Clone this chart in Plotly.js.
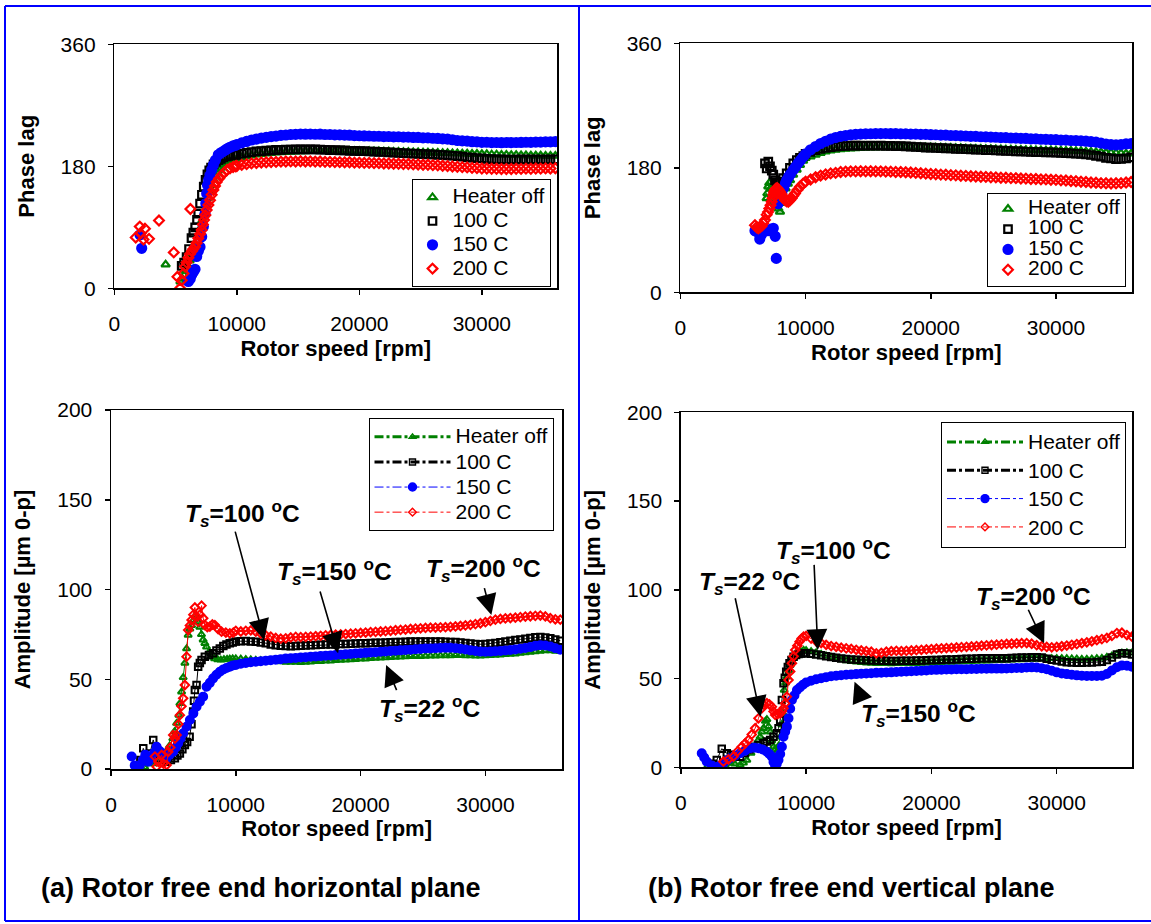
<!DOCTYPE html>
<html>
<head>
<meta charset="utf-8">
<script src="https://cdn.plot.ly/plotly-3.0.1.min.js"></script>
<style>html,body{margin:0;padding:0;background:#fff;}</style>
</head>
<body>
<div id="chart" style="width:1151px;height:924px;"></div>
<script>
// Rotor speed grid used for the steady part of every run (rpm)
const speedGrid = [
  10000,10400,10800,11200,11600,12000,12400,12800,13200,13600,
  14000,14400,14800,15200,15600,16000,16400,16800,17200,17600,
  18000,18400,18800,19200,19600,20000,20400,20800,21200,21600,
  22000,22400,22800,23200,23600,24000,24400,24800,25200,25600,
  26000,26400,26800,27200,27600,28000,28400,28800,29200,29600,
  30000,30400,30800,31200,31600,32000,32400,32800,33200,33600,
  34000,34400,34800,35200,35600,36000];

const seriesNames = ['Heater off', '100 C', '150 C', '200 C'];

// ---------- (a) horizontal plane: phase lag [deg] ----------
const hPhaseOffRpm = [4190,5400,5550,5700,5850,6000,6150,6300,6450,6600,6750,6900,7050,7200,7350,7500,7650,7800,7950,8100,8250,8400,8550,8700,8850,9000,9200,9400,9600,9800];
const hPhaseOff    = [35,10,14,19,26,33,41,49,57,64,70,77,88,100,111,122,133,143,152,160,166,171,175,178,181,183,185,187,188.5,189.5];
const hPhaseOffHigh = [
  190.2,192.5,194.6,195.9,197.2,198.1,199.0,199.5,200.3,200.7,
  201.1,201.3,201.9,202.1,202.2,202.6,202.6,202.9,203.1,202.9,
  203.0,203.1,202.8,202.8,202.5,202.6,202.3,202.4,202.1,202.2,
  201.9,201.9,201.5,201.5,201.1,201.1,200.7,200.7,200.3,200.3,
  200.0,199.9,199.5,199.5,199.1,199.1,198.7,198.7,198.3,198.3,
  198.0,197.9,197.5,197.5,197.1,197.1,196.7,196.6,196.3,196.3,
  196.0,195.8,195.8,195.6,195.6,195.4];

const hPhase100Rpm = [5500,5700,5900,6100,6300,6450,6600,6750,6850,7000,7150,7300,7450,7600,7750,7900,8100,8300,8500,8700,8900,9100,9300,9500,9700,9900];
const hPhase100    = [33,38,46,58,74,82,90,101,110,125,138,150,160,168,174,178,183,186.5,189,191,193,194.5,195.5,196.2,196.7,197];
const hPhase100High = [
  197.2,198.5,199.9,200.8,201.9,202.4,203.2,203.5,204.1,204.3,
  204.8,204.8,205.1,205.0,205.1,204.9,204.9,204.5,204.4,204.0,
  204.0,203.6,203.5,202.9,202.9,202.4,202.3,201.8,201.7,201.2,
  201.1,200.5,200.3,199.7,199.5,198.9,198.8,198.3,198.1,197.7,
  197.6,196.9,196.7,196.0,195.6,194.9,194.3,193.3,192.7,191.9,
  191.6,190.9,190.7,190.3,190.3,189.9,190.0,189.9,190.2,189.9,
  190.1,189.8,190.1,190.0,190.1,190.2];

const hPhase150Rpm = [2098,2236,6041,6200,6316,6450,6588,6724,6860,6996,7132,7268,7404,7470,7540,7610,7700,7812,7950,8084,8250,8492,8700,8898,9100,9300,9500,9700,9900];
const hPhase150    = [79,59,10,14,20,24,28,47,55,61,76,91,110,125,140,152,160,167,175,182,189,197,200,202,204.5,206.8,208.5,210,211];
const hPhase150High = [
  212.0,214.6,216.7,218.8,220.2,221.7,222.7,223.9,224.6,225.6,
  226.2,226.9,227.2,227.5,227.4,227.6,227.3,227.4,226.9,226.9,
  226.5,226.5,226.0,225.9,225.3,225.1,224.8,224.7,224.3,224.3,
  223.9,224.0,223.5,223.6,223.0,223.1,222.6,222.6,222.0,221.9,
  221.4,221.1,220.5,220.1,219.2,218.1,217.5,217.1,216.3,216.1,
  215.4,215.5,215.0,215.1,214.8,215.1,215.0,215.1,215.2,215.5,
  215.4,215.7,215.8,216.1,216.1,216.5];

const hPhase200Rpm = [1749,2080,2141,2382,2503,2834,3648,4854,5156,5367,5500,5650,5771,5900,6050,6180,6211,6350,6450,6588,6720,6860,7000,7132,7230,7322,7430,7540,7680,7812,7950,8084,8220,8356,8560,8764,8980,9200,9444,9700,9900];
const hPhase200    = [75,91,81,72,88,73,100,53,17,0,12,22,32,38,45,50.6,117,55,58,61.4,67,73.8,80,86,94,100.8,108,115.5,123,130,138,145,151,157,162,167,171,174.5,177,179,180];
const hPhase200High = [
  180.5,182.1,183.2,184.3,184.9,185.7,185.9,186.3,186.5,186.9,
  187.0,187.2,187.1,187.4,187.1,187.3,186.9,187.0,186.6,186.6,
  186.2,186.2,185.8,185.9,185.4,185.4,185.0,185.0,184.6,184.6,
  184.2,184.2,183.8,183.7,183.3,183.3,182.8,182.7,182.3,182.2,
  181.7,181.5,180.8,180.5,179.8,179.4,178.7,178.4,177.6,177.4,
  176.7,176.7,176.3,176.3,176.0,176.1,176.0,176.3,176.2,176.5,
  176.3,176.7,176.6,176.9,176.8,177.1];

// ---------- (b) vertical plane: phase lag [deg] ----------
const vPhaseOffRpm = [6893,6950,7021,7100,7200,7300,7450,7600,7820,7955,8091,8250,8400,8580,8754,9000,9284,9550,9800];
const vPhaseOff    = [136,143,153,158,150,140,130,124,121,116.5,129,140,150,157,162,170,177,184,190];
const vPhaseOffHigh = [
  194.0,196.4,198.8,201.2,203.5,205.0,206.0,206.8,207.4,207.9,
  208.2,208.6,208.8,209.2,209.2,209.6,209.6,209.9,209.8,210.1,
  209.9,210.1,209.8,209.9,209.5,209.6,209.2,209.2,208.8,208.8,
  208.4,208.4,208.0,208.0,207.6,207.6,207.2,207.2,206.8,206.8,
  206.4,206.4,206.0,206.0,205.6,205.6,205.3,205.4,205.1,205.2,
  204.9,204.9,204.5,204.5,204.1,204.1,203.5,203.3,202.7,202.5,
  201.9,201.8,201.3,201.1,200.6,200.6];

const vPhase100Rpm = [6757,6893,7021,7157,7300,7421,7556,7692,7850,8000,8200,8490,8750,9018,9300,9550,9816];
const vPhase100    = [186.5,179,189,182,176,170,162,158,158,160,165,172,180,186.5,191,194.5,197];
const vPhase100High = [
  200.0,203.1,205.4,207.4,208.6,209.9,210.5,211.3,211.5,212.0,
  212.0,212.1,211.9,212.1,211.9,212.0,211.8,211.8,211.4,211.3,
  211.0,210.7,210.1,209.9,209.3,209.1,208.6,208.5,208.0,207.9,
  207.5,207.3,206.8,206.7,206.2,206.1,205.6,205.5,205.0,204.9,
  204.5,204.3,203.8,203.7,203.2,203.1,202.7,202.7,202.3,202.3,
  201.9,201.7,201.1,200.9,200.3,200.1,199.2,198.5,197.2,196.1,
  194.4,193.5,192.6,193.0,193.7,195.1];

const vPhase150Rpm = [5958,6094,6340,6500,6692,6985,7200,7338,7421,7572,7660,7800,7955,8100,8250,8400,8490,8650,8800,9018,9200,9400,9600,9816];
const vPhase150    = [89,88,77,84,90,89,91,90,92.5,81,49,128,136,144,151,158,162,167,171,177,181.5,186.5,191,196];
const vPhase150High = [
  200.0,206.0,210.8,215.1,218.4,221.5,223.7,225.4,226.6,227.6,
  228.3,228.7,229.1,229.2,229.5,229.4,229.6,229.3,229.4,229.1,
  229.1,228.7,228.7,228.3,228.3,227.9,227.8,227.3,227.2,226.7,
  226.6,226.1,226.0,225.5,225.4,224.9,224.8,224.3,224.2,223.7,
  223.6,223.1,223.0,222.5,222.4,221.9,221.8,221.3,221.2,220.7,
  220.6,220.1,220.0,219.5,219.4,218.9,218.5,217.7,217.1,215.7,
  214.4,213.4,213.1,213.5,214.5,215.0];

const vPhase200Rpm = [5958,6090,6224,6357,6490,6620,6757,6893,7000,7101,7200,7292,7360,7421,7490,7556,7650,7741,7850,7955,8060,8171,8260,8355,8480,8618,8750,8890,9020,9155,9350,9553,9800];
const vPhase200    = [97,94,92.5,94,96,100,104.5,112,116,121,126,131,136,141,145,148,150,150.4,148,145.4,142,139,136,133.4,131.5,131,133,136,139.5,143,148,152.7,157];
const vPhase200High = [
  160.0,163.0,166.3,168.7,170.4,171.9,172.7,174.0,174.5,174.9,
  174.8,175.1,174.9,175.1,174.8,174.9,174.5,174.4,174.0,173.9,
  173.6,173.2,172.7,172.1,171.6,171.1,170.7,170.2,169.9,169.4,
  169.1,168.6,168.3,167.8,167.5,167.0,166.8,166.3,166.2,165.7,
  165.6,165.1,165.0,164.5,164.4,163.9,163.8,163.3,163.2,162.7,
  162.6,161.9,161.6,160.9,160.6,159.9,159.5,158.7,158.4,157.8,
  157.6,157.3,157.6,157.8,158.7,159.4];

// ---------- (a) horizontal plane: amplitude [um 0-p] ----------
const hAmpOffRpm = [2200,2450,2700,2950,3200,3450,3700,3950,4200,4450,4700,4950,5100,5255,5439,5519,5655,5783,5920,6055,6183,6320,6455,6620,6799,6960,7119,7250,7383,7520,7655,7850,8055,8300,8550,8800,9050,9300,9519,9750];
const hAmpOff    = [2,0,1,3,4,3,5,7,8,10,13,17,21,25.5,30,36.6,43,51,59,67,74.6,78,80,83,85.8,82,79,75,72,70,68,65,62.6,61.5,61,60.8,61,61.2,61.3,61.5];
const hAmpOffHigh = [
  61.5,61.3,61.1,60.9,60.7,60.5,60.4,60.2,60.0,59.8,
  59.6,59.5,59.5,59.4,59.6,59.7,59.9,60.0,60.2,60.3,
  60.5,60.6,60.8,60.9,61.1,61.3,61.4,61.6,61.8,61.9,
  62.0,62.2,62.3,62.5,62.6,62.7,62.8,62.8,62.9,63.0,
  63.0,63.1,63.2,63.2,63.3,63.3,63.2,63.1,63.0,63.0,
  63.1,63.3,63.4,63.6,63.8,64.0,64.2,64.5,64.8,65.1,
  65.4,65.7,66.0,65.9,65.7,65.5];

const hAmp100Rpm = [2350,2584,2850,3120,3384,3650,3900,4200,4455,4800,5119,5320,5519,5719,5919,6100,6300,6450,6584,6650,6719,6855,6983,7119,7255,7519,7850,8183,8450,8719,9000,9250,9519,9750];
const hAmp100    = [5,11.5,7,8.7,16.2,10,6,5,4,5,6,7.5,8.7,11,13.4,15,18,25,32,38,44,46.8,57,59,60.7,62.6,63.5,64.5,66,67.2,68.5,69.3,70,70.5];
const hAmp100High = [
  71.0,71.2,71.3,71.1,70.9,70.5,70.0,69.4,69.0,68.7,
  68.5,68.4,68.5,68.6,68.8,69.0,69.1,69.2,69.3,69.4,
  69.5,69.6,69.7,69.8,69.9,70.0,70.1,70.2,70.3,70.4,
  70.5,70.6,70.7,70.8,70.9,71.0,71.0,71.1,71.1,71.1,
  71.0,71.0,70.9,70.8,70.7,70.5,70.2,69.9,69.6,69.5,
  69.6,69.9,70.2,70.6,71.0,71.4,71.8,72.2,72.6,73.0,
  73.4,73.5,73.3,72.8,72.1,71.5];

const hAmp150Rpm = [1655,1900,2184,2320,2550,2750,2984,3200,3450,3656,3900,4184,4450,4700,4983,5200,5383,5580,5783,6050,6319,6600,6855,7120,7383,7655,7920,8183,8450,8719,9000,9250,9519,9750];
const hAmp150    = [7,2,0,2.2,5,8,4,6,9,12.4,10,8.7,6,8,9.6,12,14.3,17,19.9,23.5,27.3,31,34.7,37.5,40.3,45.8,48,50.5,52.5,54.2,55.5,56.3,57,57.7];
const hAmp150High = [
  58.0,58.6,59.1,59.5,59.8,60.0,60.3,60.6,60.9,61.2,
  61.5,61.7,61.9,62.1,62.3,62.5,62.7,62.9,63.1,63.3,
  63.5,63.7,63.9,64.1,64.3,64.5,64.7,64.9,65.1,65.3,
  65.5,65.7,65.9,66.1,66.3,66.5,66.7,66.9,67.1,67.2,
  67.3,67.4,67.5,67.5,67.3,67.0,66.6,66.1,65.7,65.4,
  65.3,65.4,65.6,65.8,66.0,66.3,66.6,67.0,67.4,67.9,
  68.6,69.0,68.8,68.2,67.3,66.5];

const hAmp200Rpm = [3520,3655,3800,4055,4200,4455,4583,4750,4983,5120,5255,5400,5519,5650,5783,5919,6055,6183,6320,6455,6600,6719,6850,6983,7120,7255,7390,7519,7720,7919,8120,8319,8580,8855,9200,9519,9800];
const hAmp200    = [6.9,1.3,4,7.8,3,2.2,9.6,12,18.9,17,18.9,25,30,35,39.4,46.8,62.6,77.4,80,83,86,90,85,82.1,86,91,84,80.2,79,79.3,80.5,80.2,78,76.5,76,75.6,76];
const hAmp200High = [
  77.0,76.6,77.0,77.2,76.5,75.5,74.5,73.8,73.0,72.6,
  72.8,73.3,73.6,73.5,73.6,73.8,74.0,74.2,74.5,74.7,
  74.8,75.0,75.2,75.4,75.6,75.8,76.0,76.3,76.4,76.6,
  76.8,77.0,77.3,77.5,77.7,78.0,78.2,78.4,78.6,78.7,
  78.8,78.9,79.0,79.2,79.4,79.7,80.0,80.3,80.7,81.2,
  81.8,82.5,83.2,83.6,83.9,84.1,84.3,84.6,84.9,85.1,
  85.3,85.5,85.0,84.0,83.4,83.2];

// ---------- (b) vertical plane: amplitude [um 0-p] ----------
const vAmpOffRpm = [2071,2400,2871,3200,3550,3934,4300,4734,5000,5269,5600,5933,6150,6333,6470,6597,6750,6869,7000,7132,7260,7396,7530,7668,7800,7932,8050,8148,8252,8360,8468,8600,8732,9000,9268,9550,9800];
const vAmpOff    = [0,1,0.3,2,1.5,2.3,2,1.3,2.5,4.1,8,11.6,15,17.2,20,22,26,27,23,20,15,11.6,10,8.8,12,17.2,24,30.4,43.5,47.5,51,54.5,57.6,61.5,64.2,65.5,66];
const vAmpOffHigh = [
  65.8,65.3,64.6,63.8,62.8,62.0,61.3,60.7,60.1,59.7,
  59.4,59.1,58.9,58.7,58.6,58.5,58.5,58.4,58.5,58.5,
  58.5,58.6,58.6,58.7,58.8,58.9,59.0,59.1,59.2,59.3,
  59.4,59.5,59.6,59.7,59.8,59.9,60.0,60.1,60.2,60.3,
  60.4,60.5,60.6,60.7,60.8,60.9,61.0,61.1,61.2,61.3,
  61.4,61.4,61.3,61.2,61.1,61.0,61.0,61.1,61.3,61.5,
  62.0,62.8,63.7,64.4,64.6,64.5];

const vAmp100Rpm = [2600,2871,3270,3670,4000,4400,4734,5100,5450,5797,6200,6597,6870,7132,7396,7668,7800,7932,8068,8196,8300,8412,8540,8676,8830,8996,9200,9400,9600,9800];
const vAmp100    = [2,4.1,10.5,7.9,7,6.5,6,8,10,11.6,12.5,13.5,14.5,15.4,17.2,19.2,22,26.6,37.9,47.3,50.5,53.9,56.5,58.6,60.5,62.3,63.3,63.8,64.1,64.3];
const vAmp100High = [
  64.3,64.0,63.6,63.1,62.6,62.1,61.7,61.3,61.0,60.8,
  60.6,60.4,60.3,60.2,60.1,60.0,60.0,59.9,59.9,60.0,
  60.0,60.0,60.1,60.2,60.3,60.4,60.5,60.6,60.7,60.8,
  60.9,61.0,61.1,61.2,61.3,61.4,61.4,61.5,61.5,61.5,
  61.5,61.6,61.7,61.8,61.9,62.0,62.0,61.8,61.2,60.6,
  60.1,59.6,59.2,59.0,58.9,58.9,59.0,59.1,59.3,59.5,
  60.5,61.8,63.5,64.3,64.1,63.5];

const vAmp150Rpm = [1671,1870,2071,2470,2871,3130,3398,3660,3934,4330,4734,5130,5533,5870,6197,6530,6869,7070,7268,7400,7532,7660,7796,7932,8068,8196,8330,8468,8596,8730,8868,9068,9268,9500,9750];
const vAmp150    = [7.9,5.5,3.2,1,0,1,2.3,3.8,5.1,6.5,7.9,9.3,10.7,11,10.7,10,8.8,7.5,6,3,0.5,2,4.1,7.5,11.6,17.2,20,22.9,27.6,33,37.9,40.5,43.5,45,46.5];
const vAmp150High = [
  47.8,48.8,49.6,50.2,50.8,51.3,51.6,51.9,52.1,52.3,
  52.5,52.7,52.8,53.0,53.2,53.3,53.4,53.5,53.7,53.8,
  54.0,54.1,54.3,54.4,54.6,54.8,54.9,55.0,55.1,55.1,
  55.2,55.3,55.3,55.4,55.4,55.5,55.5,55.6,55.6,55.6,
  55.7,55.8,55.9,56.0,56.2,56.3,56.2,55.8,55.2,54.4,
  53.5,52.9,52.5,52.1,51.8,51.6,51.5,51.5,51.4,51.6,
  52.6,54.5,56.4,57.4,57.2,56.6];

const vAmp200Rpm = [3398,3800,4198,4530,4870,5130,5397,5660,5933,6197,6469,6670,6869,7070,7268,7400,7532,7730,7932,8060,8196,8330,8468,8596,8730,8868,9000,9132,9300,9476,9640,9796];
const vAmp200    = [3.2,4.5,6,9,11.6,13.5,15.4,18.5,22,27.6,33.2,35,36.1,35.5,34.1,31.5,29.5,30,30.4,31.5,33.2,36,39.8,49.2,54,58.6,62.5,66.1,68.5,70.8,72.5,73.6];
const vAmp200High = [
  74.0,72.5,71.0,70.0,69.0,68.3,67.9,67.4,67.0,66.7,
  66.2,65.8,65.5,65.1,64.2,64.5,65.1,65.4,65.6,65.5,
  65.6,65.8,66.0,66.2,66.4,66.6,66.8,67.0,67.2,67.3,
  67.5,67.7,67.9,68.1,68.3,68.5,68.7,68.9,69.1,69.3,
  69.5,69.6,69.8,69.9,70.0,69.6,68.8,68.2,67.8,67.6,
  67.8,68.2,68.6,69.0,69.4,69.9,70.4,71.0,71.6,72.2,
  72.9,74.0,75.6,75.8,74.5,73.6];

// Shaft temperature callouts: label, text position, arrow tail, arrow head (rpm, value)
const hAmpCallouts = [
  {label: '100', text: [10560, 142.4], tail: [9919, 133.1],  head: [12279, 71.9]},
  {label: '150', text: [17918, 109.9], tail: [16718, 99.7],  head: [18198, 64.5]},
  {label: '200', text: [29837, 111.8], tail: [29885, 101.6], head: [30476, 85.8]},
  {label: '22',  text: [25517, 33.8],  tail: [22933, 43.1],  head: [22045, 57.9]}
];
const vAmpCallouts = [
  {label: '100', text: [12170, 122.4], tail: [10635, 114.9], head: [10931, 66.1]},
  {label: '22',  text: [5501, 104.6],  tail: [4318, 96.1],   head: [6373, 28.5]},
  {label: '200', text: [28114, 96.1],  tail: [27674, 89.6],  head: [28993, 69.9]},
  {label: '150', text: [19007, 30.4],  tail: [14457, 37.9],  head: [13865, 48.2]}
];

// ---------- styling ----------
const FONT = 'Liberation Sans, Arial, Helvetica, sans-serif';
const colors  = ['#008000', '#000000', '#0000FF', '#FF0000'];
const symbols = ['triangle-up-open', 'square-open', 'circle', 'diamond-open'];
const W = 1151, H = 924;
const px = v => v / W;
const py = v => 1 - v / H;

const panels = [
  {xa: 'x',  ya: 'y',  legend: 'legend',  lines: false,
   rpm: [hPhaseOffRpm, hPhase100Rpm, hPhase150Rpm, hPhase200Rpm],
   low: [hPhaseOff, hPhase100, hPhase150, hPhase200],
   high: [hPhaseOffHigh, hPhase100High, hPhase150High, hPhase200High]},
  {xa: 'x2', ya: 'y2', legend: 'legend2', lines: false,
   rpm: [vPhaseOffRpm, vPhase100Rpm, vPhase150Rpm, vPhase200Rpm],
   low: [vPhaseOff, vPhase100, vPhase150, vPhase200],
   high: [vPhaseOffHigh, vPhase100High, vPhase150High, vPhase200High]},
  {xa: 'x3', ya: 'y3', legend: 'legend3', lines: true,
   rpm: [hAmpOffRpm, hAmp100Rpm, hAmp150Rpm, hAmp200Rpm],
   low: [hAmpOff, hAmp100, hAmp150, hAmp200],
   high: [hAmpOffHigh, hAmp100High, hAmp150High, hAmp200High]},
  {xa: 'x4', ya: 'y4', legend: 'legend4', lines: true,
   rpm: [vAmpOffRpm, vAmp100Rpm, vAmp150Rpm, vAmp200Rpm],
   low: [vAmpOff, vAmp100, vAmp150, vAmp200],
   high: [vAmpOffHigh, vAmp100High, vAmp150High, vAmp200High]}
];

const legendLabel = name => '<span style="font-size:21px">' + name + '</span>';

const traces = [];
panels.forEach(p => {
  for (let i = 0; i < 4; i++) {
    const x = p.rpm[i].concat(speedGrid);
    const y = p.low[i].concat(p.high[i]);
    if (!p.lines) {
      traces.push({
        type: 'scatter', mode: 'markers', x: x, y: y,
        xaxis: p.xa, yaxis: p.ya, legend: p.legend,
        name: legendLabel(seriesNames[i]),
        marker: {symbol: symbols[i], color: colors[i], size: i === 2 ? 9 : 7.5,
                 line: {color: colors[i], width: 2.2}},
        hoverinfo: 'skip'
      });
    } else {
      traces.push({
        type: 'scatter', mode: 'lines+markers', x: x, y: y,
        xaxis: p.xa, yaxis: p.ya, showlegend: false,
        line: {color: colors[i], width: 1},
        marker: {symbol: symbols[i], color: colors[i], size: i === 2 ? 8 : 6.5,
                 line: {color: colors[i], width: 2}},
        hoverinfo: 'skip'
      });
    }
  }
  if (p.lines) {
    // legend keys drawn with the dash-dot series line style
    for (let i = 0; i < 4; i++) {
      traces.push({
        type: 'scatter', mode: 'lines+markers', x: [null], y: [null],
        xaxis: p.xa, yaxis: p.ya, legend: p.legend,
        name: legendLabel(seriesNames[i]),
        line: {color: colors[i], width: i < 2 ? 3 : 1, dash: 'dashdot'},
        marker: {symbol: symbols[i], color: colors[i], size: i === 2 ? 8 : 6,
                 line: {color: colors[i], width: 1.4}}
      });
    }
  }
});

const baseAxis = {
  showline: true, linecolor: '#000', linewidth: 1.5, mirror: true,
  ticks: 'outside', ticklen: 5, tickwidth: 1.5, tickcolor: '#000',
  showgrid: false, zeroline: false, automargin: false, fixedrange: true,
  tickfont: {family: FONT, size: 21, color: '#000'}
};
const xAxis = (anchor, domain, end) => Object.assign({}, baseAxis, {
  anchor: anchor, domain: domain, range: [0, end],
  tickvals: [0, 10000, 20000, 30000], tickformat: 'd', ticklabelstandoff: 11,
  title: {text: '<b>Rotor speed [rpm]</b>', font: {family: FONT, size: 22, color: '#000'}, standoff: 6}
});
const yAxis = (anchor, domain, range, tickvals, title) => Object.assign({}, baseAxis, {
  anchor: anchor, domain: domain, range: range, tickvals: tickvals, ticklabelstandoff: 8,
  title: {text: '<b>' + title + '</b>', font: {family: FONT, size: 22, color: '#000'}, standoff: 20}
});

const legendBox = (x, y, size, itemwidth) => ({
  x: x, y: y, xanchor: 'right', yanchor: 'top', xref: 'paper', yref: 'paper',
  bgcolor: '#fff', bordercolor: '#000', borderwidth: 1,
  font: {family: FONT, size: size, color: '#000'}, itemwidth: itemwidth,
  tracegroupgap: 0
});

const annotations = [];
const addCallouts = (list, xa, ya) => list.forEach(c => {
  annotations.push({
    xref: xa, yref: ya, axref: xa, ayref: ya,
    x: c.head[0], y: c.head[1], ax: c.tail[0], ay: c.tail[1],
    text: '', showarrow: true, arrowhead: 2, arrowsize: 2.6, arrowwidth: 1.6, arrowcolor: '#000'
  });
  annotations.push({
    xref: xa, yref: ya, x: c.text[0], y: c.text[1], showarrow: false,
    xanchor: 'center', yanchor: 'middle',
    text: '<b><i>T</i><sub><i>s</i></sub>=' + c.label + ' <sup>o</sup>C</b>',
    font: {family: FONT, size: 24.5, color: '#000'}
  });
});
addCallouts(hAmpCallouts, 'x3', 'y3');
addCallouts(vAmpCallouts, 'x4', 'y4');

annotations.push({
  xref: 'paper', yref: 'paper', x: px(260.7), y: py(887.7), showarrow: false,
  xanchor: 'center', yanchor: 'middle',
  text: '<b>(a) Rotor free end horizontal plane</b>', font: {family: FONT, size: 27, color: '#000'}
});
annotations.push({
  xref: 'paper', yref: 'paper', x: px(851.8), y: py(887.7), showarrow: false,
  xanchor: 'center', yanchor: 'middle',
  text: '<b>(b) Rotor free end vertical plane</b>', font: {family: FONT, size: 27, color: '#000'}
});

// blue panel frame
const frame = {color: '#0000FF', width: 2};
const shapes = [
  {type: 'line', xref: 'paper', yref: 'paper', x0: px(5), x1: px(5), y0: py(6), y1: py(921), line: frame},
  {type: 'line', xref: 'paper', yref: 'paper', x0: px(5), x1: 1, y0: py(6), y1: py(6), line: frame},
  {type: 'line', xref: 'paper', yref: 'paper', x0: px(5), x1: 1, y0: py(921), y1: py(921), line: frame},
  {type: 'line', xref: 'paper', yref: 'paper', x0: px(579), x1: px(579), y0: py(6), y1: py(921), line: frame}
];

const layout = {
  width: W, height: H,
  margin: {l: 0, r: 0, t: 0, b: 0},
  paper_bgcolor: '#fff', plot_bgcolor: '#fff',
  font: {family: FONT, color: '#000'},
  xaxis:  xAxis('y',  [px(114.3), px(557.2)], 36150),
  yaxis:  yAxis('x',  [py(288.3), py(44.3)], [0, 360], [0, 180, 360], 'Phase lag'),
  xaxis2: xAxis('y2', [px(680.4), px(1132.3)], 36100),
  yaxis2: yAxis('x2', [py(292.3), py(43.3)], [0, 360], [0, 180, 360], 'Phase lag'),
  xaxis3: xAxis('y3', [px(111), px(562.3)], 36160),
  yaxis3: yAxis('x3', [py(769), py(410)], [0, 200], [0, 50, 100, 150, 200], 'Amplitude [µm 0-p]'),
  xaxis4: xAxis('y4', [px(680.8), px(1132.3)], 36030),
  yaxis4: yAxis('x4', [py(767.3), py(412.3)], [0, 200], [0, 50, 100, 150, 200], 'Amplitude [µm 0-p]'),
  legend:  legendBox(px(550.5), py(179.3), 16, 30),
  legend2: legendBox(px(1126), py(192.7), 13.3, 30),
  legend3: legendBox(px(553.5), py(418.3), 17, 76),
  legend4: legendBox(px(1126), py(421.7), 19.5, 76),
  annotations: annotations,
  shapes: shapes,
  showlegend: true
};

Plotly.newPlot('chart', traces, layout, {displayModeBar: false, staticPlot: true});
</script>
</body>
</html>
